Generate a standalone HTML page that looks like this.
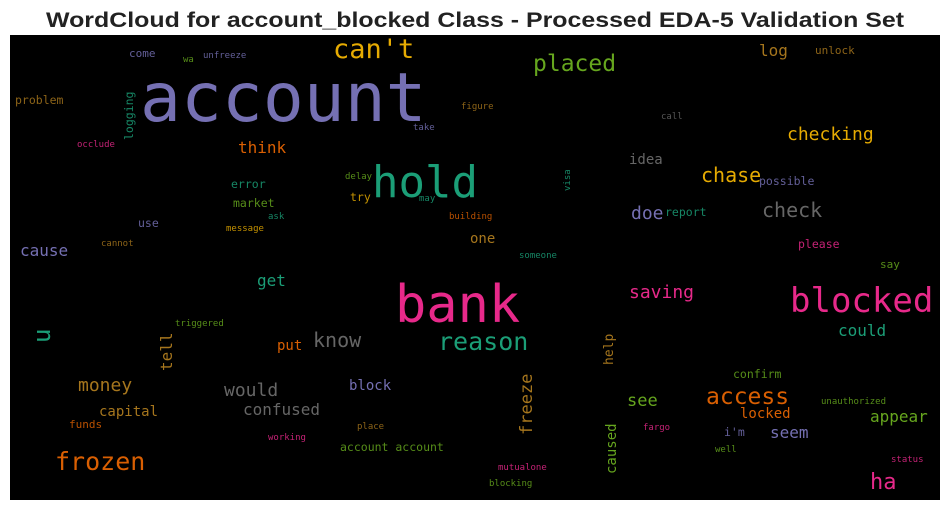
<!DOCTYPE html>
<html><head><meta charset="utf-8"><style>
html,body{margin:0;padding:0;background:#fff;}
svg{display:block;}
</style></head><body>
<svg id="chart" width="950" height="511" viewBox="0 0 950 511" xmlns="http://www.w3.org/2000/svg">
<text x="475" y="27" text-anchor="middle" textLength="858" lengthAdjust="spacingAndGlyphs" font-family="Liberation Sans, sans-serif" font-weight="bold" font-size="21" fill="#222">WordCloud for account_blocked Class - Processed EDA-5 Validation Set</text>
<rect x="10" y="35" width="930" height="465" fill="#000"/>
<g id="words"></g>
</svg>
<script>
const T="#1b9e77",O="#d95f02",P="#7570b3",K="#e7298a",G="#66a61e",Y="#e6ab02",B="#a6761d",Gr="#666666";
const words=["account","bank","hold","blocked","can't","placed","reason","frozen","checking","chase","check","access","ha","think","log","unlock","saving","could","appear","know","get","u","tell","money","capital","funds","would","confused","put","block","place","working","account account","triggered","freeze","help","caused","see","locked","confirm","unauthorized","i'm","seem","fargo","well","status","mutualone","blocking","say","please","someone","one","doe","report","possible","idea","visa","call","figure","building","take","may","try","delay","ask","message","market","error","use","cause","cannot","occlude","logging","problem","come","wa","unfreeze"];
const xs=[140,395,372,790,333,533,438,55,787,701,762,706,870,238,759,815,629,838,870,313,257,50,172,78,99,69,224,243,277,349,357,268,340,175,532,613,616,627,740,733,821,724,770,643,715,891,498,489,880,798,519,470,631,665,759,629,570,661,461,449,413,419,350,345,268,226,233,231,138,20,101,77,133,15,129,183,203];
const ys=[121,322,197,312,58,71,350,470,140,182,217,404,489,153,56,54,298,336,422,347,286,343,371,391,416,428,396,415,350,390,429,440,451,326,435,365,474,406,418,378,404,436,438,430,452,462,470,486,268,248,258,243,219,216,185,164,191,119,109,219,130,201,201,179,219,231,207,188,227,256,246,147,140,104,57,62,58];
const sizes=[68,52,44,34,27,23,25,25,18,20,20,23,22,16,16,11,18,16,16,20,16,24,16,18,14,11,18,16,14,14,9,9,11.5,9,17,13,14,17,14,11.5,9,11.5,16,9,9,9,9,9,11,11.5,9,14,18,11.5,11.5,14,9,9,9,9,9,9,11.5,9,9,9,11.5,11.5,11.5,16,9,9,11.5,11.5,11,9,9];
const colors=[P,K,T,K,Y,G,T,O,Y,Y,Gr,O,K,O,B,B,K,T,G,Gr,T,T,B,B,B,O,Gr,Gr,O,P,B,K,G,G,B,B,G,G,O,G,G,P,P,K,G,K,K,G,G,K,T,B,P,T,P,Gr,T,Gr,B,O,P,T,Y,G,T,Y,G,T,P,P,B,K,T,B,P,G,P];
const rot=[0,0,0,0,0,0,0,0,0,0,0,0,0,0,0,0,0,0,0,0,0,1,1,0,0,0,0,0,0,0,0,0,0,0,1,1,1,0,0,0,0,0,0,0,0,0,0,0,0,0,0,0,0,0,0,0,1,0,0,0,0,0,0,0,0,0,0,0,0,0,0,0,1,0,0,0,0];
const g=document.getElementById('words');
const NS="http://www.w3.org/2000/svg";
words.forEach((w,i)=>{
  const t=document.createElementNS(NS,'text');
  
  
  t.setAttribute('x',xs[i]);t.setAttribute('y',ys[i]);
  t.setAttribute('font-family','DejaVu Sans Mono, Liberation Mono, monospace');
  t.setAttribute('font-size',sizes[i]);
  t.setAttribute('fill',colors[i]);
  if(sizes[i]<12) t.setAttribute('opacity','0.85');
  if(rot[i]) t.setAttribute('transform','rotate(-90 '+xs[i]+' '+ys[i]+')');
  t.textContent=w;
  g.appendChild(t);
});
</script>
</body></html>
